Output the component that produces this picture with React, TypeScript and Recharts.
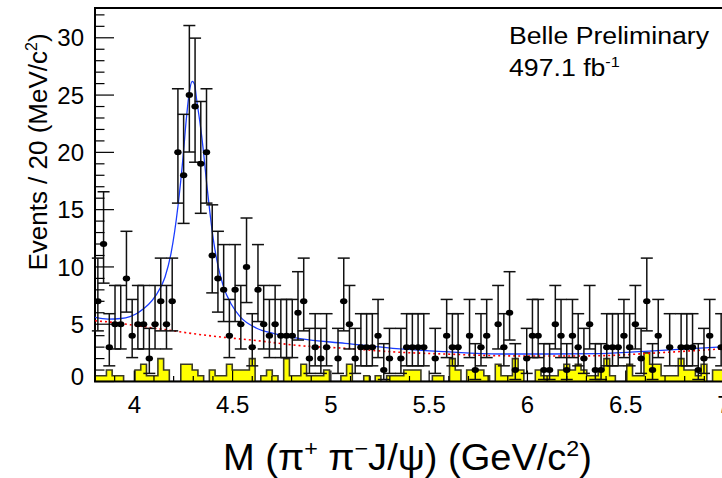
import React from 'react';
import { Area, ComposedChart, ErrorBar, Line, ReferenceArea, Scatter, XAxis, YAxis } from 'recharts';

// histogram range: 110 bins over 3.8 - 7.0 GeV
const M_LO = 3.8;
const M_HI = 7.0;
const N_BINS = 110;

// events per bin (data points)
const counts = [
  7, 12, 3, 5, 5, 9, 4, 5, 5, 2,
  5, 7, 5, 7, 20, 18, 25, 24, 19, 20,
  11, 9, 8, 4, 8, 5, 10, 3, 8, 5,
  4, 5, 4, 4, 4, 6, 7, 2, 3, 2,
  3, 0, 2, 7, 5, 2, 3, 3, 3, 4,
  1, 2, 0, 2, 3, 3, 3, 3, 0, 2,
  0, 4, 3, 3, 0, 4, 1, 3, 4, 0,
  5, 3, 6, 1, 0, 2, 4, 4, 1, 1,
  5, 4, 1, 4, 3, 2, 5, 1, 1, 3,
  3, 3, 4, 3, 5, 2, 7, 1, 4, 0,
  3, 0, 3, 3, 3, 1, 2, 4, 0, 3,
];

// J/psi sideband background (yellow histogram)
const sideband = [
  0.5, 0.5, 1, 0.5, 0.5, 0, 0, 1, 1.5, 0.5,
  0.5, 2, 1, 0, 0, 1.5, 1.5, 1, 0.5, 0,
  1, 0.5, 0.5, 1.5, 1, 1, 1, 2, 0, 0.5,
  1, 0.5, 0, 2, 0.5, 0.5, 1.5, 0.5, 0.5, 0.5,
  1, 0, 0, 0.5, 1.5, 0, 0, 0.5, 0, 0.5,
  0, 0.5, 0.5, 0.5, 1, 1, 1, 0, 0, 0.5,
  0.5, 0, 2, 1, 0, 1, 1, 1, 0.5, 0,
  1.5, 0.5, 0.5, 2, 1, 0, 0, 1, 0.5, 0.5,
  0.5, 1, 1.5, 1, 1.5, 1, 0.5, 0.5, 1, 2,
  0.5, 0, 0, 1.5, 0.5, 0.5, 2.5, 1.5, 1.5, 0.5,
  0.5, 0.5, 2, 1, 1, 0.5, 1.5, 0, 1, 1,
];

// 68% Poisson intervals for n = 0..25
const poissonLo = [0, 0.173, 0.708, 1.367, 2.086, 2.84, 3.62, 4.419, 5.232, 6.057, 6.891, 7.734, 8.585,
  9.441, 10.3, 11.17, 12.04, 12.92, 13.8, 14.68, 15.57, 16.45, 17.35, 18.24, 19.14, 20.03];
const poissonHi = [1.841, 3.3, 4.638, 5.918, 7.163, 8.382, 9.584, 10.77, 11.95, 13.11, 14.27, 15.42, 16.56,
  17.7, 18.83, 19.96, 21.08, 22.2, 23.32, 24.44, 25.55, 26.66, 27.76, 28.87, 29.97, 31.07];

// total fit (blue)
const fitMass = [3.8, 3.866, 3.932, 4.019, 4.105, 4.156, 4.187, 4.222, 4.248, 4.264, 4.282, 4.295, 4.307,
  4.317, 4.334, 4.351, 4.368, 4.385, 4.402, 4.427, 4.453, 4.495, 4.538, 4.622, 4.707, 4.843, 5.072,
  5.351, 5.58, 5.86, 6.114, 6.369, 6.659, 7.0];
const fitTotal = [5.6, 5.45, 5.5, 6.0, 7.4, 9.1, 11.2, 15.3, 19.6, 22.8, 25.5, 26.2, 25.9,
  24.6, 22.6, 20.2, 17.3, 14.7, 12.4, 10.0, 8.3, 6.7, 5.66, 4.65, 4.2, 3.74, 3.33,
  2.84, 2.6, 2.4, 2.4, 2.43, 2.7, 3.04];

// background part of the fit (red dotted)
const bkgMass = [3.8, 3.866, 3.98, 4.105, 4.207, 4.324, 4.453, 4.622, 4.843, 5.072, 5.351, 5.58, 5.86,
  6.114, 6.369, 6.659, 7.0];
const bkgFit = [5.3, 5.2, 4.95, 4.65, 4.4, 4.12, 3.86, 3.57, 3.13, 2.9, 2.55, 2.4, 2.25,
  2.22, 2.25, 2.5, 2.86];

const xTickLabels = ['4', '4.5', '5', '5.5', '6', '6.5', '7'];
const yTickLabels = ['0', '5', '10', '15', '20', '25', '30'];

const PL = 95;
const PB = 381.5;
const FONT = '"Liberation Sans", Arial, Helvetica, sans-serif';

const binW = (M_HI - M_LO) / N_BINS;
const points = counts
  .map((n, i) => ({ m: M_LO + (i + 0.5) * binW, y: n, err: [n - poissonLo[n], poissonHi[n] - n] }))
  .filter((p) => p.y > 0);
const sbData = sideband.map((v, i) => ({ m: M_LO + i * binW, bg: v }));
sbData.push({ m: M_HI, bg: sideband[sideband.length - 1] });
const fitData = fitMass.map((m, i) => ({ m, v: fitTotal[i] }));
const bkgData = bkgMass.map((m, i) => ({ m, v: bkgFit[i] }));

const xTicks: number[] = [];
for (let k = 38; k <= 70; k++) xTicks.push(k / 10);
const yTicks: number[] = [];
for (let k = 0; k <= 32; k++) yTicks.push(k);

const XTick = ({ x, payload }: any) => {
  const v = payload.value;
  const major = Math.abs(v * 2 - Math.round(v * 2)) < 1e-6;
  const label = xTickLabels.find((t) => Math.abs(parseFloat(t) - v) < 1e-6);
  return (
    <g>
      <line x1={x} x2={x} y1={PB} y2={PB - (major ? 11 : 5.5)} stroke="#000" strokeWidth={1.2} />
      {major && label && (
        <text x={x} y={PB + 31.5} textAnchor="middle" fontSize={24} fontFamily={FONT} fill="#000">
          {label}
        </text>
      )}
    </g>
  );
};

const YTick = ({ y, payload }: any) => {
  const v = payload.value;
  const label = yTickLabels.find((t) => parseFloat(t) === v);
  return (
    <g>
      <line x1={PL} x2={PL + (label ? 19 : 9.5)} y1={y} y2={y} stroke="#000" strokeWidth={1.2} />
      {label && (
        <text x={PL - 11} y={y + (v === 0 ? -5 : 0)} dy="0.36em" textAnchor="end" fontSize={24} fontFamily={FONT} fill="#000">
          {label}
        </text>
      )}
    </g>
  );
};

const Dot = ({ cx, cy }: any) => <ellipse cx={cx} cy={cy} rx={3.7} ry={3} fill="#000" />;

export default function App() {
  return (
    <div style={{ position: 'absolute', left: 0, top: 0, width: 722, height: 478, overflow: 'hidden', background: '#fff' }}>
      <ComposedChart width={740} height={478} margin={{ top: 8, right: 16, left: 8, bottom: 0 }}>
        <XAxis
          dataKey="m"
          type="number"
          domain={[M_LO, M_HI]}
          allowDataOverflow
          ticks={xTicks}
          interval={0}
          tick={(p: any) => <XTick {...p} />}
          tickLine={false}
          axisLine={false}
          height={96.5}
        />
        <YAxis
          dataKey="y"
          type="number"
          domain={[0, 32.6]}
          allowDataOverflow
          ticks={yTicks}
          interval={0}
          tick={(p: any) => <YTick {...p} />}
          tickLine={false}
          axisLine={false}
          width={87}
        />
        <Area
          data={sbData}
          dataKey="bg"
          type="stepAfter"
          fill="#ffff00"
          fillOpacity={1}
          stroke="#3a3a28"
          strokeWidth={1.6}
          isAnimationActive={false}
        />
        <Line data={bkgData} dataKey="v" type="monotone" dot={false} stroke="#ff0000" strokeWidth={1.6} strokeDasharray="2 3" isAnimationActive={false} />
        <Line data={fitData} dataKey="v" type="monotone" dot={false} stroke="#1a3cff" strokeWidth={1.3} isAnimationActive={false} />
        <Scatter data={points} shape={<Dot />} isAnimationActive={false}>
          <ErrorBar dataKey="err" direction="y" width={6} stroke="#111" strokeWidth={1.5} />
        </Scatter>
        <ReferenceArea x1={M_LO} x2={M_HI} y1={0} y2={32.6} fill="none" stroke="#000" strokeWidth={2} />
      </ComposedChart>
      <svg width={722} height={478} style={{ position: 'absolute', left: 0, top: 0, pointerEvents: 'none' }}>
        <text x={509} y={44} fontSize={23} fontFamily={FONT} textLength={200} lengthAdjust="spacingAndGlyphs">
          Belle Preliminary
        </text>
        <g transform="translate(509,76) scale(1.16,1)">
          <text x={0} y={0} fontSize={23} fontFamily={FONT}>
            497.1 fb<tspan dy={-9} fontSize={14}>-1</tspan>
          </text>
        </g>
        <text transform="translate(47,152) rotate(-90)" x={0} y={0} textAnchor="middle" fontSize={26} fontFamily={FONT}>
          Events / 20 (MeV/c<tspan dy={-10} fontSize={16}>2</tspan><tspan dy={10}>)</tspan>
        </text>
        <text x={223} y={470} fontSize={36} fontFamily={FONT} textLength={369} lengthAdjust="spacingAndGlyphs">
          M (π<tspan dy={-14} fontSize={22}>+</tspan>
          <tspan dy={14}> π</tspan>
          <tspan dy={-14} fontSize={22}>−</tspan>
          <tspan dy={14}>J/ψ) (GeV/c</tspan>
          <tspan dy={-14} fontSize={22}>2</tspan>
          <tspan dy={14}>)</tspan>
        </text>
      </svg>
    </div>
  );
}
